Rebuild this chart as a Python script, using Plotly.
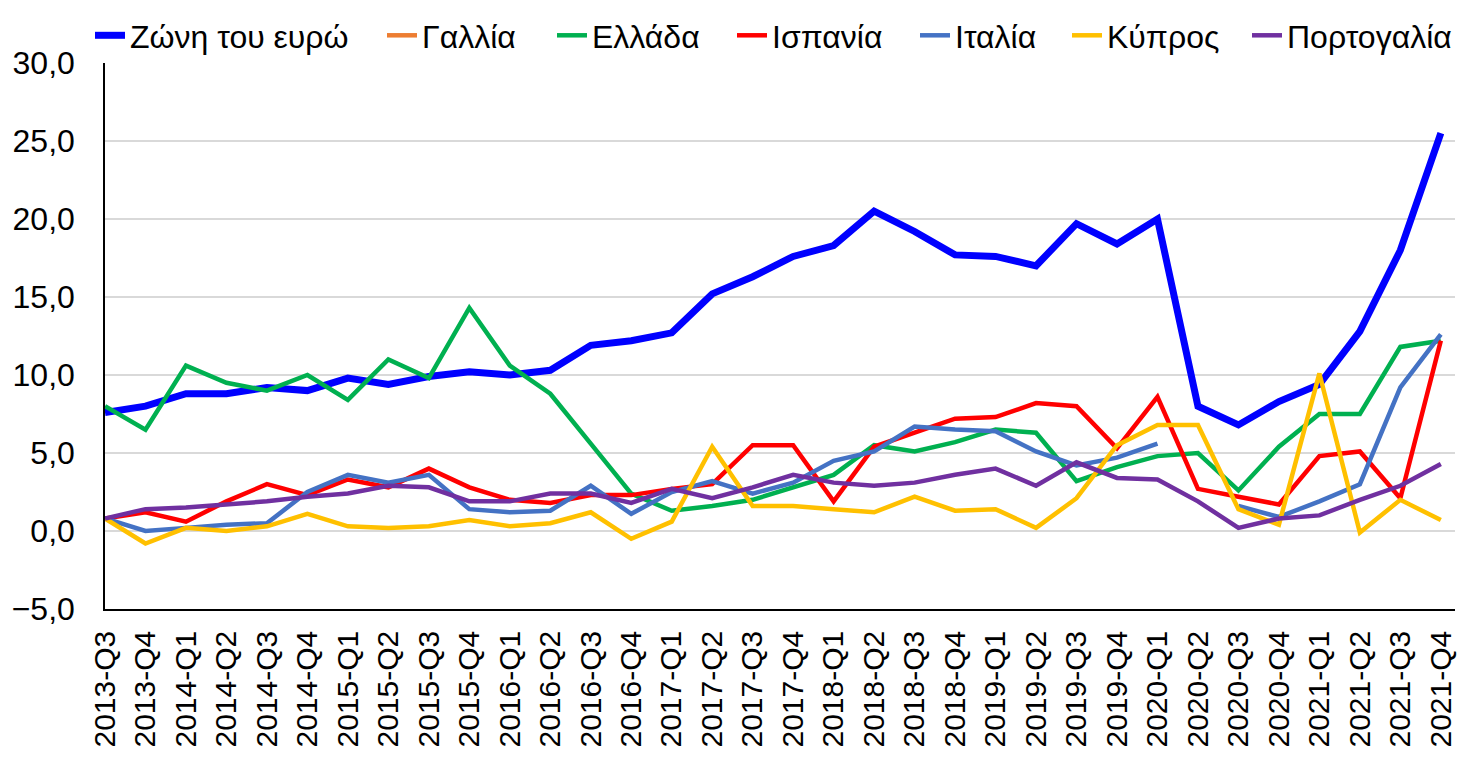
import plotly.graph_objects as go

quarters = [f"{y}-Q{q}" for y in range(2013, 2022) for q in range(1, 5)][2:]

euro = [7.6, 8.0, 8.8, 8.8, 9.2, 9.0, 9.8, 9.4, 9.9, 10.2, 10.0, 10.3,
        11.9, 12.2, 12.7, 15.2, 16.3, 17.6, 18.3, 20.5, 19.2, 17.7, 17.6, 17.0,
        19.7, 18.4, 20.0, 8.0, 6.8, 8.3, 9.4, 12.8, 18.0, 25.5]
france = [None] * len(quarters)
greece = [8.0, 6.5, 10.6, 9.5, 9.0, 10.0, 8.4, 11.0, 9.8, 14.3, 10.6, 8.8,
          5.6, 2.4, 1.3, 1.6, 2.0, 2.8, 3.6, 5.5, 5.1, 5.7, 6.5, 6.3,
          3.2, 4.1, 4.8, 5.0, 2.6, 5.4, 7.5, 7.5, 11.8, 12.2]
spain = [0.8, 1.2, 0.6, 1.9, 3.0, 2.3, 3.3, 2.8, 4.0, 2.8, 2.0, 1.8,
         2.3, 2.3, 2.7, 3.0, 5.5, 5.5, 1.9, 5.4, 6.3, 7.2, 7.3, 8.2,
         8.0, 5.3, 8.6, 2.7, 2.2, 1.7, 4.8, 5.1, 2.1, 12.2]
italy = [0.8, 0.0, 0.2, 0.4, 0.5, 2.5, 3.6, 3.1, 3.6, 1.4, 1.2, 1.3,
         2.9, 1.1, 2.5, 3.2, 2.4, 3.1, 4.5, 5.1, 6.7, 6.5, 6.4, 5.1,
         4.2, 4.7, 5.6, None, 1.6, 0.9, 1.9, 3.0, 9.2, 12.6]
cyprus = [0.8, -0.8, 0.2, 0.0, 0.3, 1.1, 0.3, 0.2, 0.3, 0.7, 0.3, 0.5,
          1.2, -0.5, 0.6, 5.4, 1.6, 1.6, 1.4, 1.2, 2.2, 1.3, 1.4, 0.2,
          2.1, 5.5, 6.8, 6.8, 1.4, 0.4, 10.1, -0.1, 2.0, 0.7]
portugal = [0.8, 1.4, 1.5, 1.7, 1.9, 2.2, 2.4, 2.9, 2.8, 1.9, 1.9, 2.4,
            2.4, 1.8, 2.7, 2.1, 2.8, 3.6, 3.1, 2.9, 3.1, 3.6, 4.0, 2.9,
            4.4, 3.4, 3.3, 1.9, 0.2, 0.8, 1.0, 2.0, 2.9, 4.3]

series = [
    ("Ζώνη του ευρώ", euro, "#0000FF", 7),
    ("Γαλλία", france, "#ED7D31", 4.5),
    ("Ελλάδα", greece, "#00B050", 4.5),
    ("Ισπανία", spain, "#FF0000", 4.5),
    ("Ιταλία", italy, "#4472C4", 4.5),
    ("Κύπρος", cyprus, "#FFC000", 4.5),
    ("Πορτογαλία", portugal, "#7030A0", 4.5),
]

W, H = 1457, 749
# left edge (px) where each legend text starts
legend_text_x = [127, 419, 589, 769, 952, 1104, 1284]

fig = go.Figure()
legends = {}
for i, (name, vals, color, w) in enumerate(series):
    key = "legend" if i == 0 else f"legend{i + 1}"
    fig.add_trace(go.Scatter(x=quarters, y=vals, name=name, mode="lines",
                             line=dict(color=color, width=w),
                             connectgaps=False, legend=key))
    legends[key] = dict(orientation="h", xref="container", yref="container",
                        x=(legend_text_x[i] - 45) / W, xanchor="left",
                        y=1.0, yanchor="top",
                        font=dict(size=32), bgcolor="rgba(0,0,0,0)")

fig.update_layout(
    width=W, height=H,
    margin=dict(l=97, r=10, t=52, b=148),
    plot_bgcolor="white", paper_bgcolor="white",
    separators=",.",
    font=dict(family="Liberation Sans, Arial, sans-serif", color="black"),
    showlegend=True,
    **legends,
)
fig.update_xaxes(type="category", range=[0, 33.35], tickangle=-90,
                 tickfont=dict(size=30), showgrid=False, automargin=False,
                 showline=True, linecolor="black", linewidth=1.5,
                 ticks="", ticklabelstandoff=8)
fig.update_yaxes(range=[-5, 30], dtick=5, tickformat=".1f", automargin=False,
                 tickfont=dict(size=32), showgrid=True, gridcolor="#D9D9D9",
                 gridwidth=1.5, zeroline=False, ticklabelstandoff=22,
                 showline=True, linecolor="black", linewidth=1.5, ticks="")

fig.write_html("out.html")
